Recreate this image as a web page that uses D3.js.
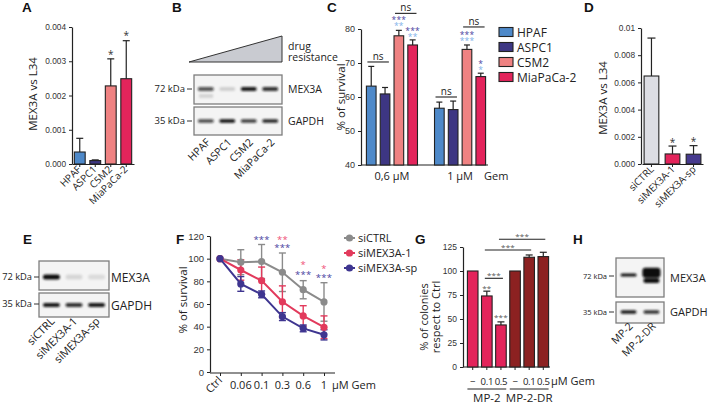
<!DOCTYPE html>
<html><head><meta charset="utf-8">
<script src="https://cdn.jsdelivr.net/npm/d3@7"></script>
<style>body{margin:0;background:#fff}</style>
</head><body><svg id="fig" width="709" height="408"></svg>
<script>
// ---------------- DATA ----------------
const cellLines = ["HPAF","ASPC1","C5M2","MiaPaCa-2"];
const cellColors = ["#4e89c9","#3d3683","#ef8282","#e3245b"];
const mex3aA = [0.00035,0.00010,0.00228,0.00249];
const mex3aAErr = [0.00040,0.00002,0.00079,0.00111];
const sigA = ["","","*","*"];
const ticksA = [0,0.001,0.002,0.003,0.004];

const mex3aBlotB = [0.7,0.15,0.95,0.85];
const gapdhBlotB = [0.75,1.0,0.8,0.9];

const doseC = ["0,6 µM","1 µM"];
const survC = [[63.2,60.9,78.0,75.3],[56.7,56.3,74.0,66.0]];
const survCErr = [[5.8,1.9,1.6,1.5],[1.8,2.5,1.3,1.0]];
const ticksC = [40,50,60,70,80];
const nsC = [[0,0,1,70.3],[0,2,3,84.6],[1,0,1,60.0],[1,2,3,80.6]];
const starsC = [[0,2,"***",0,83.2],[0,2,"**",1,81.4],[0,3,"***",0,80.0],[0,3,"**",1,78.2],
                [1,2,"***",0,78.8],[1,2,"***",1,77.0],[1,3,"*",0,70.2],[1,3,"*",1,68.4]];

const siLabels = ["siCTRL","siMEX3A-1","siMEX3A-sp"];
const siColors = ["#dcdde3","#e3245b","#463a8e"];
const mex3aD = [0.00647,0.00074,0.00072];
const mex3aDErr = [0.00279,0.00058,0.00063];
const sigD = ["","*","*"];
const ticksD = [0,0.002,0.004,0.006,0.008,0.01];

const mex3aBlotE = [1.0,0.12,0.1];
const gapdhBlotE = [0.95,0.85,0.95];

const dosesF = ["Ctrl","0.06","0.1","0.3","0.6","1"];
const survF_CTRL = [100,96.9,97.5,88,72.6,61.8];
const survF_CTRLErr = [0,11,15,17,8,17];
const survF_1 = [100,90,80.6,62,49.5,39.5];
const survF_1Err = [0,9,12,14,9,10];
const survF_sp = [100,77.7,68.5,48.9,38.5,32.8];
const survF_spErr = [0,6.5,3,3.5,3,4.5];
const ticksF = [0,20,40,60,80,100,120];
const starsF = [["0.1","***",2,118.9],["0.3","**",1,118.5],["0.3","***",2,111.2],["0.6","*",1,96.4],
                ["0.6","***",2,88],["1","*",1,92.9],["1","***",2,85]];

const doseG = ["\u2212","0.1","0.5","\u2212","0.1","0.5"];
const lineG = ["MP-2","MP-2-DR"];
const colG = [100,74,43.8,100,114.3,115];
const colGErr = [0,5,3.2,0,2.4,4.5];
const ticksG = [0,25,50,75,100,125];
const starsG = [[1,"**",83.6],[2,"***",54.2]];
const bracketsG = [[1,2,92.4],[1,4,121.9],[2,5,133]];

const blotLanesH = ["MP-2","MP-2-DR"];
const mex3aBlotH = [1,6];
const gapdhBlotH = [0.95,0.85];

// ---------------- DRAW ----------------
const svg = d3.select("#fig");
svg.append("rect").attr("width",709).attr("height",408).attr("fill","#fff");
const FL = "'Open Sans','DejaVu Sans',sans-serif";
const FT = "'Liberation Sans',Arial,sans-serif";
const INK = "#222";
const NAVY = "#4a3fa0", LIGHT = "#7fb2ea", PINK = "#ef4f78";

const defs = svg.append("defs");
defs.append("filter").attr("id","blur").attr("x","-50%").attr("y","-100%").attr("width","200%").attr("height","300%")
  .append("feGaussianBlur").attr("stdDeviation",1.1);

function text(t,x,y,o={}){
  const e = svg.append("text").attr("x",x).attr("y",y).text(t)
    .attr("font-family",o.ff||FL).attr("font-size",o.fs||11).attr("fill",o.fill||"#222")
    .attr("text-anchor",o.anchor||"start");
  if(o.weight) e.attr("font-weight",o.weight);
  if(o.ls!==undefined) e.attr("letter-spacing",o.ls);
  if(o.rot!==undefined) e.attr("transform",`rotate(${o.rot},${x},${y})`);
  return e;
}
function ylabel(t,cx,cy,fs){
  return svg.append("text").attr("transform",`translate(${cx},${cy}) rotate(-90)`).attr("dy","0.35em")
    .attr("text-anchor","middle").attr("font-family",FL).attr("font-size",fs).attr("fill","#222").text(t);
}
function stars(t,x,yc,color,fs=10){
  return text(t,x,yc+fs*0.57,{anchor:"middle",fs:fs,fill:color,ls:0.2});
}
function styleAxis(g,fs){
  g.select("path.domain").attr("stroke",INK).attr("stroke-width",1.2);
  g.selectAll(".tick line").attr("stroke",INK).attr("stroke-width",1);
  g.selectAll(".tick text").attr("font-family",FT).attr("font-size",fs).attr("fill","#333");
}
function letter(t,x,y){ text(t,x,y,{ff:FT,fs:13.5,weight:"bold",fill:"#111"}); }
function errUp(x,y0,y1,w){
  svg.append("line").attr("x1",x).attr("x2",x).attr("y1",y0).attr("y2",y1).attr("stroke",INK).attr("stroke-width",1.2);
  svg.append("line").attr("x1",x-w).attr("x2",x+w).attr("y1",y1).attr("y2",y1).attr("stroke",INK).attr("stroke-width",1.2);
}

// ---------- Panel A ----------
letter("A",22,12);
{
  const x = d3.scaleBand().domain(cellLines).range([72,134]).paddingInner(0.3).paddingOuter(0.15);
  const y = d3.scaleLinear().domain([0,0.004]).range([164,27]);
  styleAxis(svg.append("g").attr("transform","translate(72,0)")
    .call(d3.axisLeft(y).tickValues(ticksA).tickFormat(d3.format(".3f")).tickSize(3).tickSizeOuter(0)),8.3);
  styleAxis(svg.append("g").attr("transform","translate(0,164)")
    .call(d3.axisBottom(x).tickSize(3).tickSizeOuter(0).tickFormat("")),8);
  cellLines.forEach((c,i)=>{
    const cx = x(c)+x.bandwidth()/2;
    svg.append("rect").attr("x",x(c)).attr("y",y(mex3aA[i])).attr("width",x.bandwidth())
      .attr("height",y(0)-y(mex3aA[i])).attr("fill",cellColors[i]).attr("stroke",INK).attr("stroke-width",1.1);
    errUp(cx,y(mex3aA[i]),y(mex3aA[i]+mex3aAErr[i]),3.5);
    if(sigA[i]) stars(sigA[i],cx,y(mex3aA[i]+mex3aAErr[i])-7,"#333",10);
    text(c,cx+2,170,{anchor:"end",fs:10,rot:-45});
  });
  ylabel("MEX3A vs L34",33,94,11.5);
}

// ---------- Panel B ----------
letter("B",172,12);
function blot(x0,x1,y0,y1,lanes,vals,bandY,bw,bh){
  svg.append("rect").attr("x",x0).attr("y",y0).attr("width",x1-x0).attr("height",y1-y0)
    .attr("fill","#f4f4f4").attr("stroke","#7d7d7d").attr("stroke-width",1.3);
  const xs = d3.scaleBand().domain(lanes).range([x0,x1]).paddingOuter(0.05);
  const g = svg.append("g").attr("filter","url(#blur)");
  lanes.forEach((l,i)=>{
    const v = vals[i];
    const cx = xs(l)+xs.bandwidth()/2;
    if(v>1.5){
      const h = bh+2.6*(v-1);
      g.append("rect").attr("x",cx-bw/2-1).attr("y",bandY-h*0.45).attr("width",bw+2).attr("height",h*0.62)
        .attr("rx",3).attr("fill","#0a0a0a");
      g.append("rect").attr("x",cx-bw/2).attr("y",bandY+h*0.2).attr("width",bw).attr("height",h*0.3)
        .attr("rx",2).attr("fill","#111");
    } else {
      g.append("rect").attr("x",cx-bw/2).attr("y",bandY-bh/2).attr("width",bw).attr("height",bh)
        .attr("rx",bh/2).attr("fill","#111").attr("opacity",Math.min(1,v));
    }
  });
  return xs;
}
function kda(t,xr,y,fs){
  text(t,xr-6,y+fs*0.35,{anchor:"end",fs:fs});
  svg.append("line").attr("x1",xr-4).attr("x2",xr+1).attr("y1",y).attr("y2",y).attr("stroke","#333").attr("stroke-width",1);
}
{
  svg.append("polygon").attr("points","189,62 282,62 282,36").attr("fill","#c9cbd1").attr("stroke","#333").attr("stroke-width",1);
  text("drug",288,50,{fs:10.5});
  text("resistance",288,61,{fs:10.5});
  const xs = blot(194,282,75,104,cellLines,mex3aBlotB,89,16,4);
  svg.append("rect").attr("x",xs("HPAF")+4).attr("y",94).attr("width",14).attr("height",4).attr("fill","#777")
    .attr("opacity",0.25).attr("filter","url(#blur)");
  blot(194,282,107,135,cellLines,gapdhBlotB,121,16,3.6);
  kda("72 kDa",191,89,9.5);
  kda("35 kDa",191,121,9.5);
  text("MEX3A",288,93,{fs:10.5});
  text("GAPDH",288,125,{fs:10.5});
  cellLines.forEach(c=>{
    text(c,xs(c)+xs.bandwidth()/2+5,143,{anchor:"end",fs:10.5,rot:-45});
  });
}

// ---------- Panel C ----------
letter("C",327,12);
{
  const x0 = d3.scaleBand().domain(doseC).range([363,489]).paddingInner(0.25).paddingOuter(0.05);
  const x1 = d3.scaleBand().domain(d3.range(4)).range([0,x0.bandwidth()]).paddingInner(0.3);
  const y = d3.scaleLinear().domain([40,80]).range([165,29]);
  styleAxis(svg.append("g").attr("transform","translate(361,0)")
    .call(d3.axisLeft(y).tickValues(ticksC).tickSize(3).tickSizeOuter(0)),9);
  svg.append("line").attr("x1",361).attr("x2",488).attr("y1",165).attr("y2",165).attr("stroke",INK).attr("stroke-width",1.2);
  doseC.forEach((d,gi)=>{
    survC[gi].forEach((v,bi)=>{
      const bx = x0(d)+x1(bi);
      svg.append("rect").attr("x",bx).attr("y",y(v)).attr("width",x1.bandwidth()).attr("height",y(40)-y(v))
        .attr("fill",cellColors[bi]).attr("stroke",INK).attr("stroke-width",1.1);
      errUp(bx+x1.bandwidth()/2,y(v),y(v+survCErr[gi][bi]),3);
    });
    text(d,x0(d)+x0.bandwidth()/2,180,{anchor:"middle",fs:11});
  });
  text("Gem",484,180,{fs:11});
  nsC.forEach(([gi,a,b,lv])=>{
    const xa = x0(doseC[gi])+x1(a)+1, xb = x0(doseC[gi])+x1(b)+x1.bandwidth()-1;
    svg.append("line").attr("x1",xa).attr("x2",xb).attr("y1",y(lv)).attr("y2",y(lv)).attr("stroke",INK).attr("stroke-width",1.1);
    text("ns",(xa+xb)/2,y(lv)-2.2,{anchor:"middle",fs:10});
  });
  starsC.forEach(([gi,bi,t,ci,lv])=>{
    stars(t,x0(doseC[gi])+x1(bi)+x1.bandwidth()/2,y(lv),ci?LIGHT:NAVY,8.5);
  });
  ylabel("% of survival",341,97,11.5);
  cellLines.forEach((c,i)=>{
    const ly = 32+i*15;
    svg.append("rect").attr("x",499).attr("y",ly-4.5).attr("width",14).attr("height",9)
      .attr("fill",cellColors[i]).attr("stroke",INK).attr("stroke-width",1.1);
    text(c,517,ly+4.5,{fs:12});
  });
}

// ---------- Panel D ----------
letter("D",584,12);
{
  const x = d3.scaleBand().domain(siLabels).range([642,703]).paddingInner(0.3).paddingOuter(0.1);
  const y = d3.scaleLinear().domain([0,0.01]).range([164,28]);
  styleAxis(svg.append("g").attr("transform","translate(641,0)")
    .call(d3.axisLeft(y).tickValues(ticksD).tickFormat(d=>d===0.01?"0.01":d3.format(".3f")(d)).tickSize(3).tickSizeOuter(0)),8.3);
  styleAxis(svg.append("g").attr("transform","translate(0,164)")
    .call(d3.axisBottom(x).tickSize(3).tickSizeOuter(0).tickFormat("")),8);
  siLabels.forEach((c,i)=>{
    const cx = x(c)+x.bandwidth()/2;
    svg.append("rect").attr("x",x(c)).attr("y",y(mex3aD[i])).attr("width",x.bandwidth())
      .attr("height",y(0)-y(mex3aD[i])).attr("fill",siColors[i]).attr("stroke",INK).attr("stroke-width",1.1);
    errUp(cx,y(mex3aD[i]),y(mex3aD[i]+mex3aDErr[i]),4);
    if(sigD[i]) stars(sigD[i],cx,y(mex3aD[i]+mex3aDErr[i])-6,"#333",10);
    text(c,cx+3,170,{anchor:"end",fs:10,rot:-45});
  });
  ylabel("MEX3A vs L34",603,98,11.5);
}

// ---------- Panel E ----------
letter("E",23,244);
{
  const xs = blot(39,109,261,290,siLabels,mex3aBlotE,277,17,5);
  blot(39,109,293,317,siLabels,gapdhBlotE,305,17,4);
  kda("72 kDa",38,277,9.3);
  kda("35 kDa",38,304,9.3);
  text("MEX3A",111,281.5,{fs:12});
  text("GAPDH",111,309.5,{fs:12});
  siLabels.forEach(c=>text(c,xs(c)+xs.bandwidth()/2+4,322,{anchor:"end",fs:11,rot:-45}));
}

// ---------- Panel F ----------
letter("F",176,244);
{
  const x = d3.scalePoint().domain(dosesF).range([220,324]);
  const y = d3.scaleLinear().domain([0,120]).range([372,236]);
  styleAxis(svg.append("g").attr("transform","translate(210,0)")
    .call(d3.axisLeft(y).tickValues(ticksF).tickSize(3).tickSizeOuter(0)),9.5);
  const gx = svg.append("g").attr("transform","translate(0,373)")
    .call(d3.axisBottom(x).tickSize(3).tickSizeOuter(0).tickFormat(""));
  styleAxis(gx,9);
  gx.select("path.domain").attr("d","M210,0H335");
  dosesF.forEach(d=>{
    if(d==="Ctrl") text(d,x(d)+3,381,{anchor:"end",fs:11,rot:-45});
    else text(d,x(d),389,{anchor:"middle",fs:11});
  });
  text("µM Gem",332,389,{fs:11});
  const series = [[survF_CTRL,survF_CTRLErr,"#8b8b8b","siCTRL"],[survF_1,survF_1Err,"#e23a5c","siMEX3A-1"],[survF_sp,survF_spErr,"#3e3590","siMEX3A-sp"]];
  const line = d3.line().x((d,i)=>x(dosesF[i])).y(d=>y(d));
  series.forEach(([vals,errs,col])=>{
    vals.forEach((v,i)=>{
      if(!errs[i]) return;
      const cx = x(dosesF[i]);
      const g = svg.append("g").attr("stroke",col).attr("stroke-width",1.4);
      g.append("line").attr("x1",cx).attr("x2",cx).attr("y1",y(v-errs[i])).attr("y2",y(v+errs[i]));
      g.append("line").attr("x1",cx-3.5).attr("x2",cx+3.5).attr("y1",y(v+errs[i])).attr("y2",y(v+errs[i]));
      g.append("line").attr("x1",cx-3.5).attr("x2",cx+3.5).attr("y1",y(v-errs[i])).attr("y2",y(v-errs[i]));
    });
  });
  series.forEach(([vals,errs,col])=>{
    svg.append("path").attr("d",line(vals)).attr("fill","none").attr("stroke",col).attr("stroke-width",2);
    vals.forEach((v,i)=>svg.append("circle").attr("cx",x(dosesF[i])).attr("cy",y(v)).attr("r",3.6).attr("fill",col));
  });
  starsF.forEach(([d,t,si,lv])=>stars(t,x(d),y(lv),si===1?PINK:NAVY,9.5));
  series.forEach(([vals,errs,col,name],i)=>{
    const ly = 238+i*15;
    svg.append("line").attr("x1",344).attr("x2",355).attr("y1",ly).attr("y2",ly).attr("stroke",col).attr("stroke-width",2);
    svg.append("circle").attr("cx",349.5).attr("cy",ly).attr("r",3.6).attr("fill",col);
    text(name,358,ly+4,{fs:11});
  });
  ylabel("% of survival",183,300,11.5);
}

// ---------- Panel G ----------
letter("G",415,244);
{
  const idx = d3.range(colG.length);
  const x = d3.scaleBand().domain(idx).range([466,550]).paddingInner(0.25).paddingOuter(0.1);
  const y = d3.scaleLinear().domain([0,125]).range([367,247]);
  styleAxis(svg.append("g").attr("transform","translate(463,0)")
    .call(d3.axisLeft(y).tickValues(ticksG).tickSize(3).tickSizeOuter(0)),8.5);
  const gx = svg.append("g").attr("transform","translate(0,367)")
    .call(d3.axisBottom(x).tickSize(3).tickSizeOuter(0).tickFormat(""));
  styleAxis(gx,8);
  gx.select("path.domain").attr("d","M463,0H550");
  const cols = ["#e3245b","#8c2121"];
  idx.forEach(i=>{
    const cx = x(i)+x.bandwidth()/2;
    svg.append("rect").attr("x",x(i)).attr("y",y(colG[i])).attr("width",x.bandwidth()).attr("height",y(0)-y(colG[i]))
      .attr("fill",cols[i<3?0:1]).attr("stroke",INK).attr("stroke-width",1.1);
    if(colGErr[i]) errUp(cx,y(colG[i]),y(colG[i]+colGErr[i]),3.5);
    text(doseG[i],cx,385,{anchor:"middle",fs:9.6,ls:-0.3});
  });
  text("µM Gem",551,385,{fs:11});
  starsG.forEach(([i,t,lv])=>stars(t,x(i)+x.bandwidth()/2,y(lv),"#555",8));
  bracketsG.forEach(([a,b,lv])=>{
    const xa = x(a)+x.bandwidth()/2-2, xb = x(b)+x.bandwidth()/2+2;
    svg.append("line").attr("x1",xa).attr("x2",xb).attr("y1",y(lv)).attr("y2",y(lv)).attr("stroke",INK).attr("stroke-width",1.1);
    stars("***",(xa+xb)/2,y(lv)-4.5,"#555",8);
  });
  lineG.forEach((l,k)=>{
    const xa = x(k*3), xb = x(k*3+2)+x.bandwidth();
    svg.append("line").attr("x1",xa).attr("x2",xb).attr("y1",389).attr("y2",389).attr("stroke",INK).attr("stroke-width",1);
    text(l,(xa+xb)/2,402,{anchor:"middle",fs:11.5});
  });
  svg.append("text").attr("transform","translate(428,317) rotate(-90)").attr("text-anchor","middle")
    .attr("font-family",FL).attr("font-size",11).attr("fill","#222")
    .selectAll("tspan").data(["% of colonies","respect to Ctrl"]).join("tspan")
    .attr("x",0).attr("dy",(d,i)=>i?"1.05em":"0").text(d=>d);
}

// ---------- Panel H ----------
letter("H",573,244);
{
  const xs = blot(616,664,258,297,blotLanesH,mex3aBlotH,275,16,3);
  blot(616,664,302,323,blotLanesH,gapdhBlotH,312,16,3.6);
  kda("72 kDa",613,276,7.5);
  kda("35 kDa",613,312,7.5);
  text("MEX3A",670,282,{fs:11});
  text("GAPDH",670,316,{fs:11});
  blotLanesH.forEach(c=>text(c,xs(c)+xs.bandwidth()/2+5,327,{anchor:"end",fs:10.5,rot:-45}));
}
</script></body></html>
